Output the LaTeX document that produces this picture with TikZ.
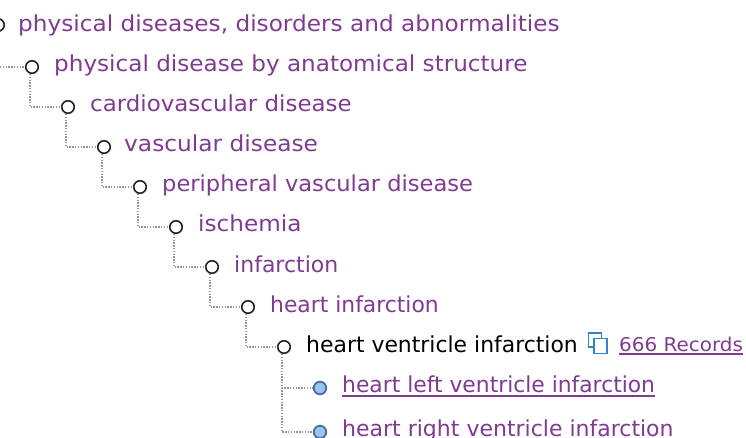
\documentclass[tikz,border=0pt]{standalone}
\usepackage{fontspec}
\setmainfont{DejaVu Sans}
\usetikzlibrary{calc}
\definecolor{plum}{HTML}{803A92}
\definecolor{icon}{HTML}{2E86C8}
\definecolor{dotc}{HTML}{959595}
\definecolor{leafd}{HTML}{3F6F9F}
\definecolor{leaff}{HTML}{9CC4EC}
\tikzset{
 x=1pt,y=-1pt,
 open/.style={circle,draw=black!85,line width=1.6pt,fill=white,minimum size=12.5pt,inner sep=0pt},
 leaf/.style={circle,draw=leafd,line width=1.8pt,fill=leaff,minimum size=12.5pt,inner sep=0pt},
 lab/.style={anchor=base west,inner sep=0pt,text=plum,font=\fontsize{22}{24}\selectfont},
 conn/.style={draw=dotc,line width=1.4pt,dash pattern=on 1.4pt off 1.4pt},
 ul/.style={draw=plum,line width=1.2pt},
 iconbox/.style={draw=icon,line width=1.4pt,fill=white}
}
\begin{document}
\begin{tikzpicture}
\useasboundingbox (0,0) rectangle (746,438);
\coordinate (free) at (0,67);
\node[open] (c0) at (-2,25) {};
\node[open] (c1) at (32,67) {};
\node[open] (c2) at (68,107) {};
\node[open] (c3) at (104,147) {};
\node[open] (c4) at (140,187) {};
\node[open] (c5) at (176,227) {};
\node[open] (c6) at (212,267) {};
\node[open] (c7) at (248,307) {};
\node[open] (c8) at (284,347) {};
\node[leaf] (c9) at (320,388) {};
\node[leaf] (c10) at (320,432) {};
\draw[conn] (free) -- (c1.west);
\foreach \a/\b in {c1/c2,c2/c3,c3/c4,c4/c5,c5/c6,c6/c7,c7/c8,c8/c9,c8/c10}
  \draw[conn] ([xshift=-2pt]\a.south) |- (\b.west);
\node[lab,xscale=1.054] (t0) at (18,32) {physical diseases, disorders and abnormalities};
\node[lab,xscale=1.05] (t1) at (54,72) {physical disease by anatomical structure};
\node[lab,xscale=1.042] (t2) at (90,112) {cardiovascular disease};
\node[lab,xscale=1.058] (t3) at (124,152) {vascular disease};
\node[lab,xscale=1.026] (t4) at (162,192) {peripheral vascular disease};
\node[lab,xscale=1.052] (t5) at (198,232) {ischemia};
\node[lab,xscale=1.0] (t6) at (234,272) {infarction};
\node[lab,xscale=0.993] (t7) at (270,312) {heart infarction};
\node[lab,xscale=0.996,text=black] (t8) at (306,352) {heart ventricle infarction};
\node[lab,xscale=0.992] (t9) at (342,392) {heart left ventricle infarction};
\node[lab,xscale=1.0] (t10) at (342,436) {heart right ventricle infarction};
\node[lab,font=\fontsize{19}{21}\selectfont,xscale=1.05] (rec) at (619,351) {666 Records};
\draw[ul] ($(t9.base west)+(0,4)$) -- ($(t9.base east)+(0,4)$);
\draw[ul] ($(rec.base west)+(0,3)$) -- ($(rec.base east)+(0,3)$);
\node[iconbox,minimum width=13pt,minimum height=14pt,inner sep=0pt] (ib) at (595,340) {};
\node[iconbox,minimum width=13pt,minimum height=15pt,inner sep=0pt] (ia) at (600.5,346) {};
\end{tikzpicture}
\end{document}
